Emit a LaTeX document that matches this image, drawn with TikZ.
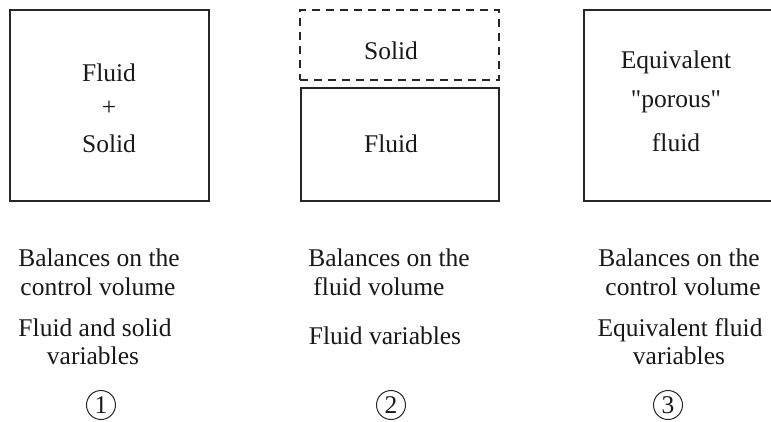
\documentclass[tikz,border=0pt]{standalone}
\usepackage{fontspec}
\setmainfont{Liberation Serif}
\newfontfamily\plainqfont{Liberation Serif}
\begin{document}
\begin{tikzpicture}[x=1pt,y=-1pt,
  box/.style={draw=black!85,line width=1.3pt},
  dbox/.style={draw=black!85,line width=1.3pt,dash pattern=on 8pt off 6pt},
  txt/.style={anchor=base,inner sep=0pt,font=\fontsize{25.5}{29}\selectfont,text=black!90},
  num/.style={draw=black!85,line width=1pt,circle,inner sep=0pt,minimum size=29pt,font=\fontsize{25.5}{29}\selectfont,text=black!90}]
\useasboundingbox (0,0) rectangle (771,421);
\clip (0,0) rectangle (771,421);
% boxes
\node[box,minimum width=199pt,minimum height=191pt,inner sep=0pt] (b1) at (109.5,105.5) {};
\node[dbox,minimum width=199pt,minimum height=70pt,inner sep=0pt] (b2s) at (399.5,45) {};
\node[box,minimum width=198pt,minimum height=113pt,inner sep=0pt] (b2f) at (400,144.5) {};
\node[box,minimum width=200pt,minimum height=191pt,inner sep=0pt] (b3) at (684,105.5) {};
% box texts
\node[txt] (t11) at (109,81) {Fluid};
\node[txt] (t12) at (109,115) {+};
\node[txt] (t13) at (109,152) {Solid};
\node[txt] (t21) at (391,59) {Solid};
\node[txt] (t22) at (391,152) {Fluid};
\node[txt] (t31) at (676,68) {Equivalent};
\node[txt] (t32) at (676,107) {\plainqfont "porous"};
\node[txt] (t33) at (676,151) {fluid};
% column 1
\node[txt] (c11) at (99,266) {Balances on the};
\node[txt] (c12) at (98,295) {control volume};
\node[txt] (c13) at (95,336) {Fluid and solid};
\node[txt] (c14) at (93,364) {variables};
% column 2
\node[txt] (c21) at (389,266) {Balances on the};
\node[txt] (c22) at (379,295) {fluid volume};
\node[txt] (c23) at (385,344) {Fluid variables};
% column 3
\node[txt] (c31) at (679,266) {Balances on the};
\node[txt] (c32) at (683,295) {control volume};
\node[txt] (c33) at (680,336) {Equivalent fluid};
\node[txt] (c34) at (679,364) {variables};
% numbers
\node[num] (n1) at (101,405) {1};
\node[num] (n2) at (391,405) {2};
\node[num] (n3) at (668,405) {3};
\end{tikzpicture}
\end{document}
